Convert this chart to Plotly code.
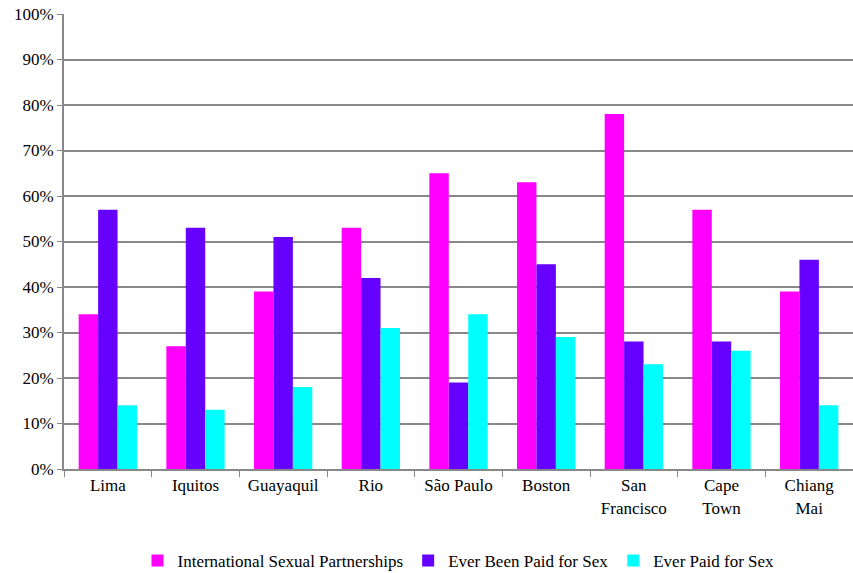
import plotly.graph_objects as go

cities = ["Lima", "Iquitos", "Guayaquil", "Rio", "São Paulo", "Boston",
          "San<br>Francisco", "Cape<br>Town", "Chiang<br>Mai"]
international = [34, 27, 39, 53, 65, 63, 78, 57, 39]
ever_been_paid = [57, 53, 51, 42, 19, 45, 28, 28, 46]
ever_paid = [14, 13, 18, 31, 34, 29, 23, 26, 14]

series = [
    ("International Sexual Partnerships", international, "#FF00FF"),
    ("Ever Been Paid for Sex", ever_been_paid, "#6600FF"),
    ("Ever Paid for Sex", ever_paid, "#00FFFF"),
]

fig = go.Figure()
for name, vals, col in series:
    fig.add_trace(go.Bar(
        x=cities, y=[v / 100 for v in vals], name=name,
        marker=dict(color=col, line=dict(width=0)),
    ))

fig.update_layout(
    font=dict(family="Times New Roman, Liberation Serif, Tinos, Nimbus Roman, FreeSerif, serif",
              size=17, color="black"),
    width=853, height=573,
    margin=dict(l=64, r=0, t=14, b=104),
    paper_bgcolor="white", plot_bgcolor="white",
    barmode="group", bargap=0.335, bargroupgap=0,
    showlegend=True,
    legend=dict(orientation="h", x=0.5, xanchor="center",
                yref="container", y=0.021, yanchor="middle",
                itemwidth=30, traceorder="normal"),
)
fig.update_xaxes(
    showline=True, linecolor="#888888", linewidth=2,
    ticks="outside", ticklen=6, tickcolor="#888888", tickwidth=1,
    tickson="boundaries", showgrid=False, automargin=False,
)
fig.update_yaxes(
    range=[0, 1], dtick=0.1, tickformat=".0%",
    showline=True, linecolor="#888888", linewidth=2,
    ticks="outside", ticklen=5, tickcolor="#888888",
    showgrid=True, gridcolor="#888888", gridwidth=1.5,
    zeroline=False, automargin=False,
)
fig.write_html("out.html")
